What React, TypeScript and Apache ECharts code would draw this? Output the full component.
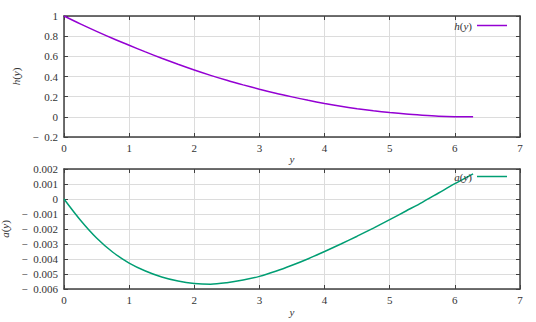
import React, { useEffect, useRef } from "react";
import * as echarts from "echarts";

const yValues = [0, 0.25, 0.5, 0.75, 1, 1.25, 1.5, 1.75, 2, 2.25, 2.5, 2.75, 3, 3.25, 3.5, 3.75, 4, 4.25, 4.5, 4.75, 5, 5.25, 5.5, 5.75, 6, 6.28];
const hValues = [1.0, 0.922, 0.848, 0.777, 0.71, 0.644, 0.581, 0.521, 0.464, 0.411, 0.362, 0.317, 0.274, 0.234, 0.198, 0.164, 0.133, 0.105, 0.081, 0.06, 0.042, 0.027, 0.016, 0.007, 0.002, 0.0];
const aValues = [0, -0.0014, -0.0026, -0.00355, -0.00427, -0.0048, -0.0052, -0.00547, -0.00563, -0.00568, -0.00558, -0.0054, -0.00516, -0.00482, -0.00442, -0.00398, -0.0035, -0.003, -0.00248, -0.00194, -0.00138, -0.0008, -0.00022, 0.0004, 0.00102, 0.00168];

const FONT = "'Liberation Serif', 'DejaVu Serif', serif";
const TXT = "#333";
const AX = "#404040";
const GRIDC = "#dcdcdc";

const minus = (s: string) => s.replace("-", "\u2212\u2002");

function App() {
  const ref = useRef<HTMLDivElement>(null);
  useEffect(() => {
    if (!ref.current) return;
    const chart = echarts.init(ref.current, null, { renderer: "svg" });
    const rich = { i: { fontStyle: "italic", fontFamily: FONT, fontSize: 11, color: TXT }, n: { fontFamily: FONT, fontSize: 11, color: TXT } };
    const xBase = (gridIndex: number, gap: number) => ({
      type: "value",
      gridIndex,
      min: 0,
      max: 7,
      interval: 1,
      name: "{i|y}",
      nameLocation: "middle",
      nameGap: gap,
      nameTextStyle: { rich },
      axisLine: { show: true, onZero: false, lineStyle: { color: AX, width: 1.5 } },
      axisTick: { show: true, inside: true, length: 4, lineStyle: { color: AX } },
      axisLabel: { fontFamily: FONT, fontSize: 11, color: TXT, margin: 5 },
      splitLine: { show: true, lineStyle: { color: GRIDC, width: 1 } },
    });
    const xMirror = (gridIndex: number) => ({
      type: "value",
      gridIndex,
      min: 0,
      max: 7,
      interval: 1,
      position: "top",
      axisLine: { show: true, onZero: false, lineStyle: { color: AX, width: 1.5 } },
      axisTick: { show: true, inside: true, length: 4, lineStyle: { color: AX } },
      axisLabel: { show: false },
      splitLine: { show: false },
    });
    const yMirror = (gridIndex: number, min: number, max: number, interval: number) => ({
      type: "value",
      gridIndex,
      min,
      max,
      interval,
      position: "right",
      axisLine: { show: true, onZero: false, lineStyle: { color: AX, width: 1.5 } },
      axisTick: { show: true, inside: true, length: 4, lineStyle: { color: AX } },
      axisLabel: { show: false },
      splitLine: { show: false },
    });
    const yBase = (gridIndex: number, min: number, max: number, interval: number, digits: number, name: string, gap: number) => ({
      type: "value",
      gridIndex,
      min,
      max,
      interval,
      name,
      nameLocation: "middle",
      nameGap: gap,
      nameRotate: 90,
      nameTextStyle: { rich },
      axisLine: { show: true, onZero: false, lineStyle: { color: AX, width: 1.5 } },
      axisTick: { show: true, inside: true, length: 4, lineStyle: { color: AX } },
      axisLabel: {
        fontFamily: FONT,
        fontSize: 11,
        color: TXT,
        margin: 6,
        formatter: (v: number) => minus(String(parseFloat(v.toFixed(digits)))),
      },
      splitLine: { show: true, lineStyle: { color: GRIDC, width: 1 } },
    });
    chart.setOption({
      animation: false,
      backgroundColor: "#fff",
      grid: [
        { left: 64, top: 16, width: 456, height: 121, outerBoundsMode: "none", containLabel: false },
        { left: 64, top: 169, width: 456, height: 120, outerBoundsMode: "none", containLabel: false },
      ],
      xAxis: [xBase(0, 16), xMirror(0), xBase(1, 17), xMirror(1)],
      yAxis: [
        yBase(0, -0.2, 1, 0.2, 1, "{i|h}{n|(}{i|y}{n|)}", 37),
        yMirror(0, -0.2, 1, 0.2),
        yBase(1, -0.006, 0.002, 0.001, 3, "{i|a}{n|(}{i|y}{n|)}", 47),
        yMirror(1, -0.006, 0.002, 0.001),
      ],
      legend: [
        {
          data: ["h"],
          right: 29,
          top: 20,
          padding: 0,
          align: "right",
          icon: "rect",
          itemWidth: 30,
          itemHeight: 1.5,
          itemGap: 6,
          formatter: () => "{i|h}{n|(}{i|y}{n|)}",
          textStyle: { rich },
        },
        {
          data: ["a"],
          right: 29,
          top: 171,
          padding: 0,
          align: "right",
          icon: "rect",
          itemWidth: 30,
          itemHeight: 1.5,
          itemGap: 6,
          formatter: () => "{i|a}{n|(}{i|y}{n|)}",
          textStyle: { rich },
        },
      ],
      series: [
        {
          name: "h",
          type: "line",
          xAxisIndex: 0,
          yAxisIndex: 0,
          data: yValues.map((x, i) => [x, hValues[i]]),
          smooth: 0.3,
          symbol: "none",
          lineStyle: { color: "#9400d3", width: 1.5 },
          itemStyle: { color: "#9400d3" },
        },
        {
          name: "a",
          type: "line",
          xAxisIndex: 2,
          yAxisIndex: 2,
          data: yValues.map((x, i) => [x, aValues[i]]),
          smooth: 0.3,
          symbol: "none",
          lineStyle: { color: "#009e73", width: 1.5 },
          itemStyle: { color: "#009e73" },
        },
      ],
    });
    return () => chart.dispose();
  }, []);
  return <div ref={ref} style={{ position: "fixed", left: 0, top: 0, width: 536, height: 322 }} />;
}

export default App;
